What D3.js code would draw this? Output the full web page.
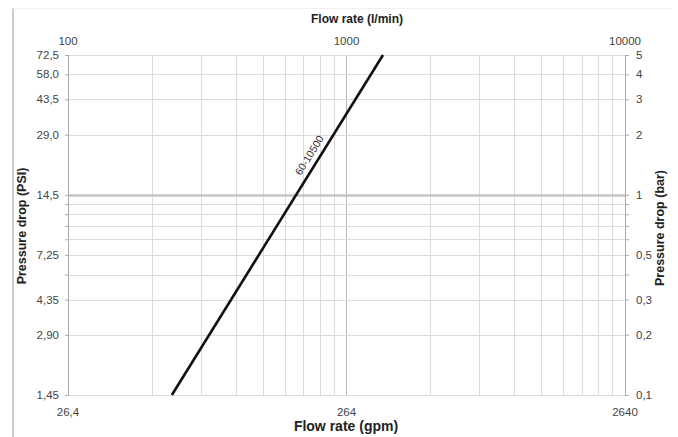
<!DOCTYPE html>
<html><head><meta charset="utf-8">
<script src="https://cdn.jsdelivr.net/npm/d3@7"></script>
<style>html,body{margin:0;padding:0;background:#fff;}svg{display:block;font-family:Arial,"Liberation Sans",sans-serif;}</style>
</head><body>
<script>
// Data
const barTicks = [5, 4, 3, 2, 1, 0.5, 0.3, 0.2, 0.1];
const psiLabels = ["72,5", "58,0", "43,5", "29,0", "14,5", "7,25", "4,35", "2,90", "1,45"];
const flowTicks = [100, 1000, 10000];
const gpmLabels = ["26,4", "264", "2640"];
const seriesName = "60-10500";
const seriesFlow = [236, 1352];     // l/min
const seriesPressure = [0.1, 5];    // bar

const W = 678, H = 437;
const svg = d3.select("body").append("svg").attr("width", W).attr("height", H);

const x = d3.scaleLog().domain([100, 10000]).range([68, 625]);
const y = d3.scaleLog().domain([0.1, 5]).range([395, 55]);

// frame
svg.append("line").attr("x1", 13).attr("x2", 13).attr("y1", 8).attr("y2", H).attr("stroke", "#999").attr("stroke-width", 1);
svg.append("line").attr("x1", 13).attr("x2", 672).attr("y1", 8.5).attr("y2", 8.5).attr("stroke", "#f0f0f0").attr("stroke-width", 1);

// grid
const g = svg.append("g");
g.selectAll(".vg").data(x.ticks()).join("line")
  .attr("x1", d => Math.round(x(d)) + 0.5).attr("x2", d => Math.round(x(d)) + 0.5)
  .attr("y1", y(5)).attr("y2", y(0.1))
  .attr("stroke", d => d === 1000 ? "#b8b8b8" : "#dcdcdc").attr("stroke-width", 1);
g.selectAll(".hg").data(y.ticks()).join("line")
  .attr("x1", x(100)).attr("x2", x(10000))
  .attr("y1", d => Math.round(y(d)) + 0.5).attr("y2", d => Math.round(y(d)) + 0.5)
  .attr("stroke", d => d === 1 ? "#c4c4c4" : "#dcdcdc").attr("stroke-width", d => d === 1 ? 2.5 : 1);

// axes lines & ticks
const leftAxis = d3.axisLeft(y).tickValues(y.ticks()).tickSize(3).tickFormat("");
svg.append("g").attr("transform", `translate(${x(100)},0)`).call(leftAxis)
  .call(a => a.selectAll("path,line").attr("stroke", "#aaa"));
const rightAxis = d3.axisRight(y).tickValues(y.ticks()).tickSize(4).tickFormat("");
svg.append("g").attr("transform", `translate(${x(10000)},0)`).call(rightAxis)
  .call(a => a.selectAll("path,line").attr("stroke", "#aaa"));

// tick labels
const lab = svg.append("g").attr("fill", "#444").attr("font-size", 11.5);
lab.selectAll(".ll").data(barTicks).join("text")
  .attr("x", 59).attr("y", d => y(d)).attr("dy", "0.35em").attr("text-anchor", "end")
  .text((d, i) => psiLabels[i]);
lab.selectAll(".rl").data(barTicks).join("text")
  .attr("x", 636).attr("y", d => y(d)).attr("dy", "0.35em").attr("text-anchor", "start")
  .text(d => String(d).replace(".", ","));
lab.selectAll(".tl").data(flowTicks).join("text")
  .attr("x", d => x(d)).attr("y", 45).attr("text-anchor", "middle").text(d => d);
lab.selectAll(".bl").data(flowTicks).join("text")
  .attr("x", d => x(d)).attr("y", 416).attr("text-anchor", "middle").text((d, i) => gpmLabels[i]);

// titles
svg.append("text").attr("x", 357).attr("y", 23).attr("text-anchor", "middle")
  .attr("font-weight", "bold").attr("font-size", 12).attr("fill", "#222").text("Flow rate (l/min)");
svg.append("text").attr("x", 346).attr("y", 431).attr("text-anchor", "middle")
  .attr("font-weight", "bold").attr("font-size", 14).attr("fill", "#222").text("Flow rate (gpm)");
svg.append("text").attr("transform", "translate(26,226) rotate(-90)").attr("text-anchor", "middle")
  .attr("font-weight", "bold").attr("font-size", 12.5).attr("fill", "#222").text("Pressure drop (PSI)");
svg.append("text").attr("transform", "translate(664,228) rotate(-90)").attr("text-anchor", "middle")
  .attr("font-weight", "bold").attr("font-size", 12.5).attr("fill", "#222").text("Pressure drop (bar)");

// series line
const pts = seriesFlow.map((f, i) => [f, seriesPressure[i]]);
svg.append("path").datum(pts)
  .attr("d", d3.line().x(d => x(d[0])).y(d => y(d[1])))
  .attr("fill", "none").attr("stroke", "#111").attr("stroke-width", 2.6);

// series label along line
const p0 = [x(seriesFlow[0]), y(seriesPressure[0])], p1 = [x(seriesFlow[1]), y(seriesPressure[1])];
const ang = Math.atan2(p1[1] - p0[1], p1[0] - p0[0]) * 180 / Math.PI;
const t = 0.69;
const lx = p0[0] + (p1[0] - p0[0]) * t, ly = p0[1] + (p1[1] - p0[1]) * t;
svg.append("text").attr("transform", `translate(${lx},${ly}) rotate(${ang})`)
  .attr("text-anchor", "middle").attr("dy", -6).attr("font-size", 10.5).attr("fill", "#333")
  .text(seriesName);
</script>
</body></html>
